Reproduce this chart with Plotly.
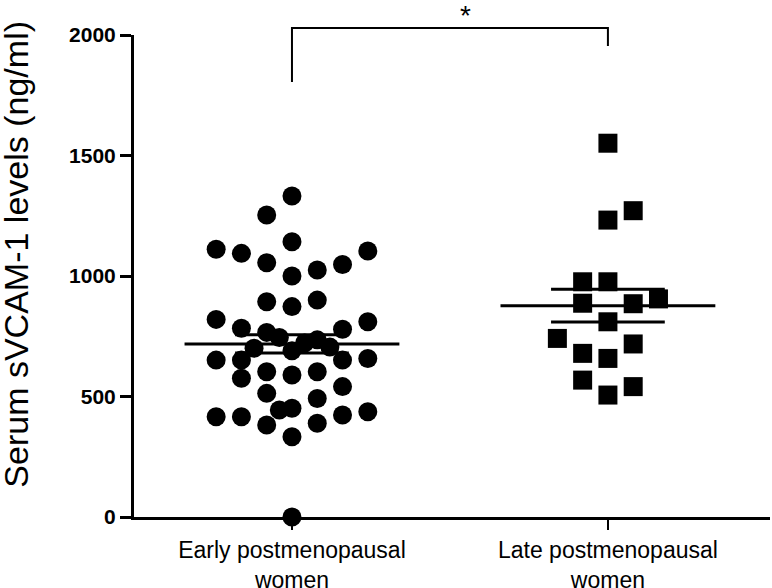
import plotly.graph_objects as go

# ---- data ----
groups = ["Early postmenopausal<br>women", "Late postmenopausal<br>women"]

early_values = [1332, 1253, 1111, 1094, 1142, 1055, 1104, 1048, 1025, 1000,
                893, 873, 900, 820, 810, 783, 766, 779,
                745, 722, 700, 690, 705, 735,
                651, 651, 651, 658, 576, 603, 589, 603, 513, 541, 492,
                416, 416, 444, 451, 382, 389, 423, 437, 333, 0]
early_slot = [0, -1, -3, -2, 0, -1, 3, 2, 1, 0,
              -1, 0, 1, -3, 3, -2, -1, 2,
              -0.5, 0.5, -1.5, 0, 1.5, 1,
              -3, -2, 2, 3, -2, -1, 0, 1, -1, 2, 1,
              -3, -2, -0.5, 0, -1, 1, 2, 3, 0, 0]

late_values = [1551, 1271, 1232, 976, 976, 905, 887, 885, 810, 741, 718,
               679, 658, 568, 506, 541]
late_slot = [0, 1, 0, -1, 0, 2, -1, 1, 0, -2, 1, -1, 0, -1, 0, 1]

early_mean, early_sem = 718, 38
late_mean, late_sem = 877, 68

yticks = [0, 500, 1000, 1500, 2000]
bracket_levels = [1805, 2029, 1954]   # left leg end, top, right leg end
sig_label = "*"

# ---- layout constants ----
SPACING = 0.08
MEAN_HALF = 0.34
SEM_HALF = 0.18
YMAX = 2000
FONT = "Liberation Sans, Arial, sans-serif"

fig = go.Figure()

fig.add_trace(go.Scatter(
    x=[0 + s * SPACING for s in early_slot], y=early_values, mode="markers",
    marker=dict(symbol="circle", size=19, color="black", line=dict(width=0)),
    cliponaxis=False, showlegend=False, hoverinfo="y"))

fig.add_trace(go.Scatter(
    x=[1 + s * SPACING for s in late_slot], y=late_values, mode="markers",
    marker=dict(symbol="square", size=19, color="black", line=dict(width=0)),
    cliponaxis=False, showlegend=False, hoverinfo="y"))

for cx, m, se in [(0, early_mean, early_sem), (1, late_mean, late_sem)]:
    fig.add_trace(go.Scatter(x=[cx - MEAN_HALF, cx + MEAN_HALF], y=[m, m],
                             mode="lines", line=dict(color="black", width=3),
                             showlegend=False, hoverinfo="skip"))
    for v in (m - se, m + se):
        fig.add_trace(go.Scatter(x=[cx - SEM_HALF, cx + SEM_HALF], y=[v, v],
                                 mode="lines", line=dict(color="black", width=3),
                                 showlegend=False, hoverinfo="skip"))

# significance bracket
l_end, top, r_end = [b / YMAX for b in bracket_levels]
fig.add_shape(type="path", xref="x", yref="paper",
              path=f"M 0,{l_end} L 0,{top} L 1,{top} L 1,{r_end}",
              line=dict(color="black", width=2))
fig.add_annotation(x=0.55, y=1.041, xref="x", yref="paper", text=sig_label,
                   showarrow=False, yanchor="middle",
                   font=dict(family=FONT, size=28, color="black"))

fig.add_annotation(x=-0.185, y=0.545, xref="paper", yref="paper",
                   text="Serum sVCAM-1 levels (ng/ml)", textangle=-90,
                   showarrow=False, xanchor="center", yanchor="middle",
                   font=dict(family=FONT, size=34, color="black"))

fig.update_layout(
    template="none",
    width=772, height=588,
    margin=dict(l=134, r=2, t=35, b=71, autoexpand=False),
    plot_bgcolor="white", paper_bgcolor="white",
    showlegend=False,
)
fig.update_xaxes(range=[-0.5, 1.513], tickmode="array", tickvals=[0, 1],
                 ticktext=groups, showline=True, linecolor="black", linewidth=3,
                 ticks="outside", ticklen=10, tickwidth=2, tickcolor="black",
                 showgrid=False, zeroline=False, automargin=False,
                 tickfont=dict(family=FONT, size=23, color="black"))
fig.update_yaxes(range=[0, YMAX], tickmode="array", tickvals=yticks,
                 showline=True, linecolor="black", linewidth=3,
                 ticks="outside", ticklen=11, tickwidth=3, tickcolor="black",
                 showgrid=False, zeroline=False, automargin=False,
                 tickfont=dict(family=FONT, size=21, color="black", weight="bold"))

fig.write_html("out.html", config={"displayModeBar": False},
               post_script="document.body.style.margin='0';document.body.style.padding='0';")
